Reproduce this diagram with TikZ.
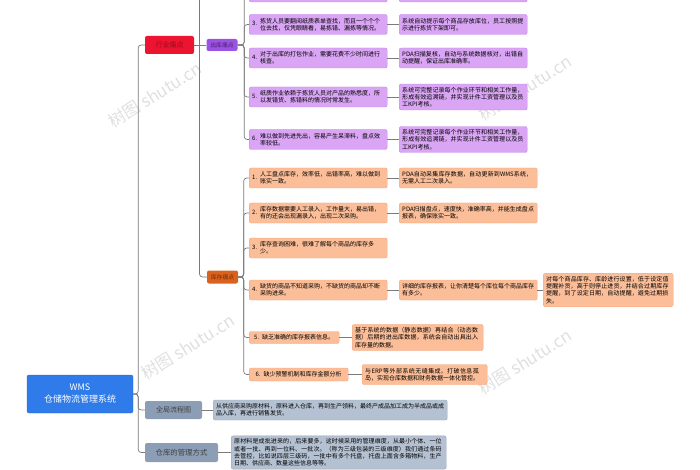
\documentclass[tikz,border=0pt]{standalone}
\usepackage{fontspec}
\newfontfamily\cjk{Noto Sans CJK SC}
\XeTeXlinebreaklocale "zh"
\XeTeXlinebreakskip=0pt plus 1pt
\usepackage{tikz}
\usetikzlibrary{positioning}

\definecolor{rootblue}{HTML}{2F7BEA}
\definecolor{painred}{HTML}{EC1431}
\definecolor{painredtext}{HTML}{9A0C1E}
\definecolor{outpurple}{HTML}{9C52E2}
\definecolor{outpurpletext}{HTML}{4B1C74}
\definecolor{leafpurple}{HTML}{D9A5F4}
\definecolor{leafpurpleline}{HTML}{BE86E6}
\definecolor{stockorange}{HTML}{D8621E}
\definecolor{stockorangetext}{HTML}{7A2B05}
\definecolor{leaforange}{HTML}{FBBE98}
\definecolor{leaforangeline}{HTML}{F2A57A}
\definecolor{flowgray}{HTML}{8C9EB6}
\definecolor{leafgray}{HTML}{B4C1D2}
\definecolor{linkgray}{HTML}{7A7A7A}

\newcommand{\numtxt}[3]{\makebox[8pt][l]{#1}\parbox[c]{#2}{\raggedright #3}}

\tikzstyle{link} = [draw=linkgray, line width=0.7pt, rounded corners=3pt]
\tikzset{
  topic/.style = {rounded corners=2pt, align=center, inner sep=2pt, font=\cjk},
  leaf/.style = {topic, anchor=west, align=left, inner sep=3pt, line width=0.4pt,
    font=\cjk\fontsize{6}{7.2}\selectfont, minimum height=20pt},% feuille
  pleaf/.style = {leaf, fill=leafpurple, draw=leafpurpleline},
  oleaf/.style = {leaf, fill=leaforange, draw=leaforangeline},
  gleaf/.style = {leaf, fill=leafgray, draw=leafgray!85!black},
  wmark/.style = {font=\cjk\fontsize{17}{17}\selectfont, text=black!12, rotate=32},
}

\begin{document}
\begin{tikzpicture}[x=1pt,y=-1pt]
  \useasboundingbox (0,0) rectangle (700,470);
  \clip (0,0) rectangle (700,470);

  % watermarks
  \node[wmark] (wm1) at (155,95) {树图 shutu.cn};
  \node[wmark] (wm2) at (525,88) {树图 shutu.cn};
  \node[wmark] (wm3) at (188,347) {树图 shutu.cn};
  \node[wmark] (wm4) at (525,362) {树图 shutu.cn};

  % root and first level
  \node[topic, fill=rootblue, draw=rootblue!85!black, text=white,
    font=\cjk\fontsize{9}{12}\selectfont, minimum width=106pt, minimum height=38pt]
    (wms) at (80,394) {WMS\\仓储物流管理系统};
  \node[topic, fill=painred, text=painredtext, font=\cjk\fontsize{7}{8}\selectfont,
    minimum width=49pt, minimum height=18pt] (hy) at (169.5,45) {行业痛点};
  \node[topic, fill=flowgray, text=black!75, font=\cjk\fontsize{7}{8}\selectfont,
    minimum width=57pt, minimum height=18pt] (qj) at (173.5,410) {全局流程图};
  \node[topic, fill=flowgray, text=black!75, font=\cjk\fontsize{7.4}{8}\selectfont,
    minimum width=73pt, minimum height=19pt] (gl) at (181.5,452.5) {仓库的管理方式};

  % second level
  \node[topic, fill=outpurple, text=outpurpletext, font=\cjk\fontsize{5.8}{7}\selectfont,
    minimum width=31pt, minimum height=12pt] (ck) at (222,45) {出库痛点};
  \node[topic, fill=stockorange, text=stockorangetext, font=\cjk\fontsize{5.8}{7}\selectfont,
    minimum width=31pt, minimum height=13pt] (kc) at (222.5,277) {库存痛点};

  % outbound pains
  \node[pleaf] (p2) at (249,-8) {\numtxt{2.}{124pt}{出库时需要人工核对单据，效率低且容易出错。}};
  \node[pleaf] (p3) at (249,24.5) {\numtxt{3.}{124pt}{拣货人员要翻阅纸质表单查找，而且一个个个位去找，仅凭眼睛看，易拣错、漏拣等情况。}};
  \node[pleaf] (p4) at (249,58) {\numtxt{4.}{124pt}{对于出库的打包作业，需要花费不少时间进行核查。}};
  \node[pleaf] (p5) at (249,97) {\numtxt{5.}{124pt}{纸质作业依赖于拣货人员对产品的熟悉度，所以发错货、拣错料的情况时常发生。}};
  \node[pleaf] (p6) at (249,139.5) {\numtxt{6.}{124pt}{难以做到先进先出，容易产生呆滞料，盘点效率较低。}};

  \node[pleaf, text width=122pt] (q2) at (399,-8) {系统自动生成拣货单，按单拣货，无需人工核对。};
  \node[pleaf, text width=122pt] (q3) at (399,24.5) {系统自动提示每个商品存放库位，员工按照提示进行拣货下架即可。};
  \node[pleaf, text width=122pt] (q4) at (399,58) {PDA扫描复核，自动与系统数据核对，出错自动提醒，保证出库准确率。};
  \node[pleaf, text width=122pt] (q5) at (399,97) {系统可完整记录每个作业环节和相关工作量，形成有效追溯链，并实现计件工资管理以及员工KPI考核。};
  \node[pleaf, text width=122pt] (q6) at (399,139.5) {系统可完整记录每个作业环节和相关工作量，形成有效追溯链，并实现计件工资管理以及员工KPI考核。};

  % stock pains
  \node[oleaf] (o1) at (249,178) {\numtxt{1.}{124pt}{人工盘点库存，效率低，出错率高，难以做到账实一致。}};
  \node[oleaf] (o2) at (249,213) {\numtxt{2.}{124pt}{库存数据需要人工录入，工作量大，易出错，有的还会出现漏录入，出现二次采购。}};
  \node[oleaf] (o3) at (249,248) {\numtxt{3.}{124pt}{库存查询困难，很难了解每个商品的库存多少。}};
  \node[oleaf] (o4) at (249,290) {\numtxt{4.}{124pt}{缺货的商品不知道采购，不缺货的商品却不断采购进来。}};
  \node[oleaf, minimum height=12pt, minimum width=90pt] (o5) at (249,337.5) {\makebox[8pt][l]{5.}缺乏准确的库存报表信息。};
  \node[oleaf, minimum height=13pt, minimum width=99pt] (o6) at (249,374.5) {\makebox[8pt][l]{6.}缺少预警机制和库存金额分析};

  \node[oleaf, text width=132pt] (r1) at (399,178) {PDA自动采集库存数据，自动更新到WMS系统，无需人工二次录入。};
  \node[oleaf, text width=132pt] (r2) at (399,213) {PDA扫描盘点，速度快，准确率高，并能生成盘点报表，确保账实一致。};
  \node[oleaf, text width=132pt] (r4) at (399,290) {详细的库存报表，让你清楚每个库位每个商品库存有多少。};
  \node[oleaf, text width=124pt] (r4b) at (543,290) {对每个商品库存、库龄进行设置，低于设定值提醒补货，高于则停止进货，并结合过期库存提醒，到了设定日期，自动提醒，避免过期损失。};
  \node[oleaf, text width=125pt] (r5) at (352,337.5) {基于系统的数据（静态数据）再结合（动态数据）后期的进出库数据，系统会自动出具出入库存量的数据。};
  \node[oleaf, text width=119pt] (r6) at (362,374.5) {与ERP等外部系统无缝集成，打破信息孤岛，实现仓库数据和财务数据一体化管控。};

  % flow and management
  \node[gleaf, text width=228pt] (g1) at (213,410) {从供应商采购原材料，原料进入仓库，再到生产领料，最终产成品加工成为半成品或成品入库，再进行销售发货。};
  \node[gleaf, text width=209pt] (g2) at (231,452.5) {原材料是成批进来的，后来要多，这时候采用的管理维度，从最小个体、一位或者一批、再到一位料、一批次。（称为三级包装的三级维度）我们通过条码去管控，比如说四层三级码，一批中有多个托盘，托盘上面含多箱物料，生产日期、供应商、数量这些信息等等。};

  % connectors
  \foreach \kid in {hy,qj,gl}
    \draw[link] (wms.east) -- ++(5,0) |- (\kid.west);
  \coordinate (hycut) at (199.5,-3);
  \draw[link] (hy.east) -- (ck.west);
  \draw[link] (hycut) |- (kc.west);
  \foreach \kid in {p2,p3,p4,p5,p6}
    \draw[link] (ck.east) -- ++(6.5,0) |- (\kid.west);
  \foreach \kid in {o1,o2,o3,o4,o5,o6}
    \draw[link] (kc.east) -- ++(5.5,0) |- (\kid.west);
  \foreach \a/\b in {p2/q2,p3/q3,p4/q4,p5/q5,p6/q6,o1/r1,o2/r2,o4/r4,r4/r4b,o5/r5,o6/r6,qj/g1,gl/g2}
    \draw[link] (\a.east) -- (\b.west);
\end{tikzpicture}
\end{document}
